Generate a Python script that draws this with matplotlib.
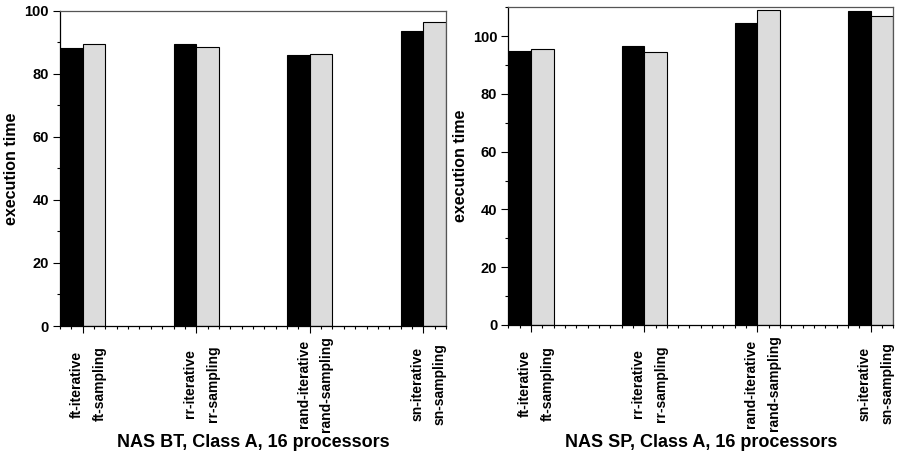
import matplotlib
matplotlib.use("Agg")
import matplotlib.pyplot as plt
from matplotlib.ticker import MultipleLocator, FixedLocator, NullFormatter
import numpy as np

plt.rcParams['font.family'] = ['Liberation Sans', 'DejaVu Sans']
plt.rcParams['font.weight'] = 'bold'

categories = ["ft", "rr", "rand", "sn"]
bt_iterative = [88.1, 89.3, 85.9, 93.7]
bt_sampling = [89.4, 88.5, 86.3, 96.4]
sp_iterative = [95.0, 96.5, 104.4, 108.7]
sp_sampling = [95.6, 94.6, 109.1, 107.1]
titles = ["NAS BT, Class A, 16 processors", "NAS SP, Class A, 16 processors"]
ylims = [100, 110]

W, H = 897, 454
fig = plt.figure(figsize=(W / 100, H / 100), dpi=100)

axes_px = [(60, 10.7, 446, 326), (508.3, 7.3, 893.3, 325)]
data = [(bt_iterative, bt_sampling), (sp_iterative, sp_sampling)]

for i, ((l, t, r, b), (it, sa)) in enumerate(zip(axes_px, data)):
    ax = fig.add_axes([l / W, 1 - b / H, (r - l) / W, (b - t) / H])
    pos = np.arange(len(categories)) * 5
    ax.bar(pos, it, width=1, align='edge', color='black', edgecolor='black', linewidth=0.8, zorder=2)
    ax.bar(pos + 1, sa, width=1, align='edge', color='#dcdcdc', edgecolor='black', linewidth=0.8, zorder=2)
    ax.set_xlim(0, 17)
    ax.set_ylim(0, ylims[i])
    ax.yaxis.set_major_locator(MultipleLocator(20))
    ax.yaxis.set_minor_locator(MultipleLocator(10))
    ax.xaxis.set_major_locator(FixedLocator(list(pos + 1)))
    ax.xaxis.set_minor_locator(MultipleLocator(0.5))
    ax.xaxis.set_major_formatter(NullFormatter())
    ax.tick_params(axis='both', which='major', direction='out', length=5, width=0.8, color='black')
    ax.tick_params(axis='both', which='minor', direction='out', length=2.5, width=0.8, color='black')
    ax.tick_params(axis='y', labelsize=10.5, pad=3)
    for lab in ax.get_yticklabels():
        lab.set_fontweight('bold')
    for s in ['left', 'bottom']:
        ax.spines[s].set_color('black')
        ax.spines[s].set_linewidth(0.9)
    for s in ['top', 'right']:
        ax.spines[s].set_color('#555555')
        ax.spines[s].set_linewidth(0.9)
    for p, c in zip(pos, categories):
        ax.text(p + 0.5 + 0.23, -0.184, f"{c}-iterative", rotation=90, ha='center', va='center',
                fontsize=10, fontweight='bold', transform=ax.get_xaxis_transform())
        ax.text(p + 1.5 + 0.23, -0.184, f"{c}-sampling", rotation=90, ha='center', va='center',
                fontsize=10, fontweight='bold', transform=ax.get_xaxis_transform())
    ax.text(0.5, -0.371, titles[i], ha='center', va='center', fontsize=13, fontweight='bold',
            transform=ax.transAxes)
    ax.text(-0.125, 0.5, "execution time", rotation=90, ha='center', va='center', fontsize=11.5,
            fontweight='bold', transform=ax.transAxes)

fig.savefig("out.png", dpi=100)
